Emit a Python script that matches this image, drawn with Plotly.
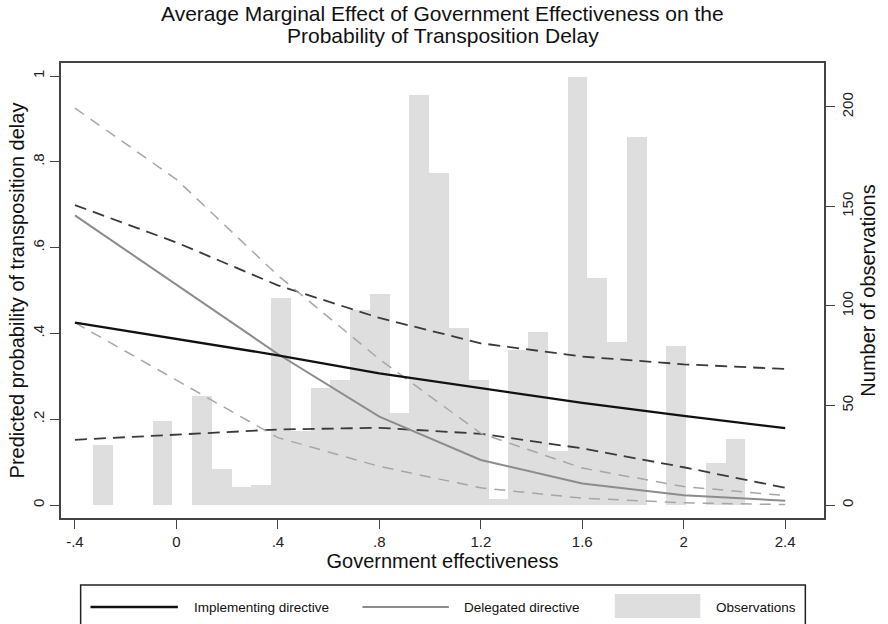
import plotly.graph_objects as go

# Predicted probabilities (margins) by government effectiveness
effectiveness = [-0.4, 0.0, 0.4, 0.8, 1.2, 1.6, 2.0, 2.4]
implementing = [0.425, 0.387, 0.349, 0.307, 0.272, 0.238, 0.208, 0.179]
implementing_hi = [0.699, 0.612, 0.512, 0.436, 0.377, 0.346, 0.328, 0.317]
implementing_lo = [0.152, 0.164, 0.176, 0.180, 0.166, 0.132, 0.088, 0.040]
delegated = [0.675, 0.514, 0.352, 0.206, 0.105, 0.050, 0.023, 0.010]
delegated_hi = [0.925, 0.759, 0.535, 0.340, 0.167, 0.086, 0.043, 0.022]
delegated_lo = [0.425, 0.290, 0.157, 0.090, 0.040, 0.016, 0.005, 0.001]

# Histogram of observations over government effectiveness
hist_start = -0.3276
hist_width = 0.0779
hist_counts = [30, 0, 0, 42, 0, 55, 18, 9, 10, 104, 37, 59, 63, 98, 106, 46,
               206, 167, 89, 63, 3, 78, 87, 27, 215, 114, 82, 185, 0, 80, 0,
               21, 33]
hist_centers = [hist_start + hist_width * (i + 0.5) for i in range(len(hist_counts))]

x_ticks = [-0.4, 0, 0.4, 0.8, 1.2, 1.6, 2.0, 2.4]
x_labels = ["-.4", "0", ".4", ".8", "1.2", "1.6", "2", "2.4"]
p_ticks = [0, 0.2, 0.4, 0.6, 0.8, 1.0]
p_labels = ["0", ".2", ".4", ".6", ".8", "1"]
n_ticks = [0, 50, 100, 150, 200]
n_labels = ["0", "50", "100", "150", "200"]

title_lines = ["Average Marginal Effect of Government Effectiveness on the",
               "Probability of Transposition Delay"]

FONT = "Liberation Sans, Arial, sans-serif"
W, H = 888, 624
ML, MR, MT, MB = 61, 50, 63, 106
AXIS = "#444444"
BAR = "#dedede"


def px_x(p):
    return (p - ML) / (W - ML - MR)


def px_y(p):
    return (H - MB - p) / (H - MT - MB)


fig = go.Figure()

fig.add_trace(go.Bar(
    x=hist_centers, y=hist_counts, width=hist_width,
    marker=dict(color=BAR, line=dict(width=0)),
    name="Observations", yaxis="y",
))

line_specs = [
    (implementing_hi, "#3a3a3a", 1.8, "12px,7px", "Implementing directive 95% CI"),
    (implementing_lo, "#3a3a3a", 1.8, "12px,7px", "Implementing directive 95% CI"),
    (delegated_hi, "#a6a6a6", 1.5, "11px,8px", "Delegated directive 95% CI"),
    (delegated_lo, "#a6a6a6", 1.5, "11px,8px", "Delegated directive 95% CI"),
    (delegated, "#8c8c8c", 2.0, "solid", "Delegated directive"),
    (implementing, "#111111", 2.3, "solid", "Implementing directive"),
]
for ys, color, width, dash, name in line_specs:
    fig.add_trace(go.Scatter(
        x=effectiveness, y=ys, mode="lines", name=name, yaxis="y2",
        line=dict(color=color, width=width, dash=dash),
    ))

tick_font = dict(family=FONT, size=15, color="#222222")
title_font = dict(family=FONT, size=20, color="#111111")

fig.update_layout(
    width=W, height=H,
    margin=dict(l=ML, r=MR, t=MT, b=MB),
    paper_bgcolor="white", plot_bgcolor="white",
    showlegend=False, bargap=0,
    xaxis=dict(
        range=[-0.455, 2.553], tickvals=x_ticks, ticktext=x_labels,
        showgrid=False, zeroline=False, showline=True, mirror=True,
        linecolor=AXIS, linewidth=1.5, ticks="outside", ticklen=9,
        tickwidth=1.3, tickcolor=AXIS, tickfont=tick_font,
        title=dict(text="Government effectiveness", font=title_font, standoff=4),
    ),
    yaxis=dict(
        range=[-6.53, 222.1], tickvals=n_ticks, ticktext=n_labels,
        side="right", showgrid=False, zeroline=False, showline=True,
        linecolor=AXIS, linewidth=1.5, ticks="outside", ticklen=9,
        tickwidth=1.3, tickcolor=AXIS, tickfont=tick_font, tickangle=-90,
        title=dict(text="Number of observations", font=title_font, standoff=6),
    ),
    yaxis2=dict(
        range=[-0.0303, 1.0303], tickvals=p_ticks, ticktext=p_labels,
        overlaying="y", side="left", showgrid=False, zeroline=False,
        showline=True, linecolor=AXIS, linewidth=1.5, ticks="outside",
        ticklen=9, tickwidth=1.3, tickcolor=AXIS, tickfont=tick_font,
        tickangle=-90,
        title=dict(text="Predicted probability of transposition delay",
                   font=title_font, standoff=0),
    ),
)

annotations = []
# Two-line chart title centred over the plot area
for line, center in zip(title_lines, [14, 35]):
    annotations.append(dict(
        text=line, xref="paper", yref="paper", x=0.5, y=px_y(center),
        xanchor="center", yanchor="middle", showarrow=False,
        font=dict(family=FONT, size=21, color="#111111"),
    ))

# Legend panel below the plot
legend_y = px_y(607)
shapes = [
    dict(type="rect", xref="paper", yref="paper",
         x0=px_x(81), x1=px_x(819), y0=px_y(632), y1=px_y(585),
         line=dict(color="#222222", width=1.5), fillcolor="white", layer="above"),
    dict(type="line", xref="paper", yref="paper",
         x0=px_x(91), x1=px_x(180), y0=legend_y, y1=legend_y,
         line=dict(color="#111111", width=2.3)),
    dict(type="line", xref="paper", yref="paper",
         x0=px_x(368), x1=px_x(456), y0=legend_y, y1=legend_y,
         line=dict(color="#8c8c8c", width=2.0)),
    dict(type="rect", xref="paper", yref="paper",
         x0=px_x(625), x1=px_x(712), y0=px_y(618), y1=px_y(594),
         line=dict(width=0), fillcolor=BAR),
]
legend_font = dict(family=FONT, size=13.5, color="#111111")
for label, left in [("Implementing directive", 194), ("Delegated directive", 469),
                    ("Observations", 726)]:
    annotations.append(dict(
        text=label, xref="paper", yref="paper", x=px_x(left), y=legend_y,
        xanchor="left", yanchor="middle", showarrow=False, font=legend_font,
    ))
fig.update_layout(shapes=shapes, annotations=annotations)

fig.write_html("out.html")
